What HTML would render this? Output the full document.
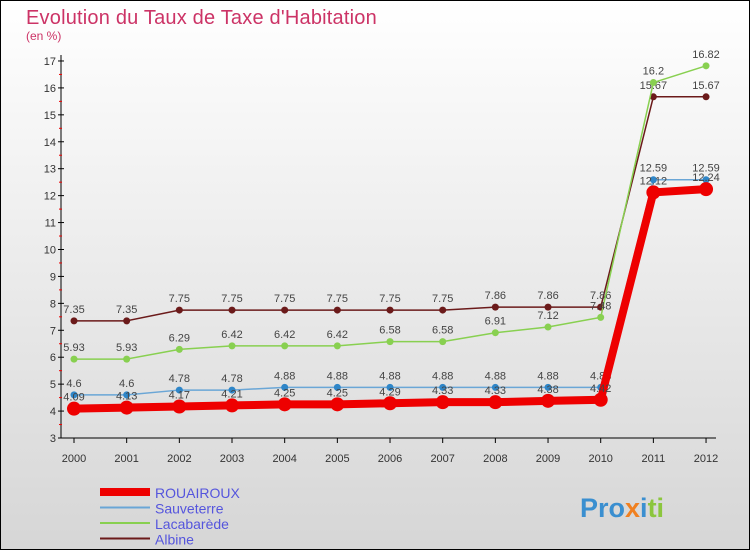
<!DOCTYPE html>
<html><head><meta charset="utf-8"><style>
body{margin:0;width:750px;height:550px;overflow:hidden;font-family:"Liberation Sans",sans-serif}
</style></head><body>
<svg id="chart" width="750" height="550" xmlns="http://www.w3.org/2000/svg" font-family="Liberation Sans, sans-serif">
<defs><linearGradient id="bg" x1="0" y1="0" x2="0" y2="1"><stop offset="0" stop-color="#ffffff"/><stop offset="1" stop-color="#d6d6d6"/></linearGradient></defs>
<rect x="0.5" y="0.5" width="749" height="549" fill="url(#bg)" stroke="#000"/>
<text x="26" y="24" font-size="20" letter-spacing="0.2" fill="#cc3366">Evolution du Taux de Taxe d'Habitation</text>
<text x="26" y="40" font-size="12" fill="#cc3366">(en %)</text>
<g id="axes"></g><g id="series"></g><g id="legend"></g>
<text x="580" y="517" font-size="27" font-weight="bold" fill="#3a8fd0">Pro<tspan fill="#f08020">x</tspan><tspan fill="#3a8fd0">i</tspan><tspan fill="#8cc63e">ti</tspan></text>
</svg>
<script>
const years=[2000,2001,2002,2003,2004,2005,2006,2007,2008,2009,2010,2011,2012];
const rouairoux=[4.09,4.13,4.17,4.21,4.25,4.25,4.29,4.33,4.33,4.38,4.42,12.12,12.24];
const sauveterre=[4.6,4.6,4.78,4.78,4.88,4.88,4.88,4.88,4.88,4.88,4.88,12.59,12.59];
const lacabarede=[5.93,5.93,6.29,6.42,6.42,6.42,6.58,6.58,6.91,7.12,7.48,16.2,16.82];
const albine=[7.35,7.35,7.75,7.75,7.75,7.75,7.75,7.75,7.86,7.86,7.86,15.67,15.67];
const yTicks=[3,4,5,6,7,8,9,10,11,12,13,14,15,16,17];
const NS="http://www.w3.org/2000/svg";
const x=i=>74+i*52.67, y=v=>438-(v-3)*26.93;
function mk(tag,attrs,parent,txt){const e=document.createElementNS(NS,tag);for(const k in attrs)e.setAttribute(k,attrs[k]);if(txt!==undefined)e.textContent=txt;parent.appendChild(e);return e;}
const ax=document.getElementById('axes');
let e=mk('line',{x1:61,y1:55,x2:61,y2:438,stroke:'#000'},ax);


e=mk('line',{x1:61,y1:438,x2:716,y2:438,stroke:'#000'},ax);


yTicks.forEach(t=>{
 mk('line',{x1:58,y1:y(t),x2:64,y2:y(t),stroke:'#000'},ax);
 if(t<17) mk('line',{x1:59,y1:y(t+0.5),x2:62,y2:y(t+0.5),stroke:'#e00'},ax);
 e=mk('text',{x:56,y:y(t)+4,'font-size':11,'text-anchor':'end',fill:'#333'},ax,t);
 
 
});
years.forEach((yr,i)=>{
 mk('line',{x1:x(i),y1:438,x2:x(i),y2:443,stroke:'#000'},ax);
 e=mk('text',{x:x(i),y:462,'font-size':11,'text-anchor':'middle',fill:'#333'},ax,yr);
 
 
});
const sg=document.getElementById('series');
const series=[
 {name:'albine',data:albine,color:'#6b1a1a',w:1.5,r:3.5},
 {name:'lacabarede',data:lacabarede,color:'#88d050',w:1.5,r:3.5},
 {name:'sauveterre',data:sauveterre,color:'#6aa6d6',w:1.5,r:3.5,dot:'#2f86c8'},
 {name:'rouairoux',data:rouairoux,color:'#ee0000',w:8,r:7}
];
series.forEach(s=>{
 const g=mk('g',{},sg);
 
 
 const ln=mk('polyline',{points:s.data.map((v,i)=>x(i)+','+y(v)).join(' '),fill:'none',stroke:s.color,'stroke-width':s.w},g);
 
 
 s.data.forEach((v,i)=>{
  const c=mk('circle',{cx:x(i),cy:y(v),r:s.r,fill:s.dot||s.color},g);
  
  
  const t=mk('text',{x:x(i),y:y(v)-8,'font-size':11,'text-anchor':'middle',fill:'#444'},g,v);
  
  
 });
});
const lg=document.getElementById('legend');
const leg=[['ROUAIROUX','#ee0000',8],['Sauveterre','#6aa6d6',2],['Lacabarède','#88d050',2],['Albine','#6b1a1a',2]];
leg.forEach((l,i)=>{
 const yy=492+i*15.5;
 const g=mk('g',{},lg);
 
 
 mk('line',{x1:100,y1:yy,x2:150,y2:yy,stroke:l[1],'stroke-width':l[2]},g);
 mk('text',{x:155,y:yy+6,'font-size':14,fill:'#5555dd'},g,l[0]);
});
</script>
</body></html>
